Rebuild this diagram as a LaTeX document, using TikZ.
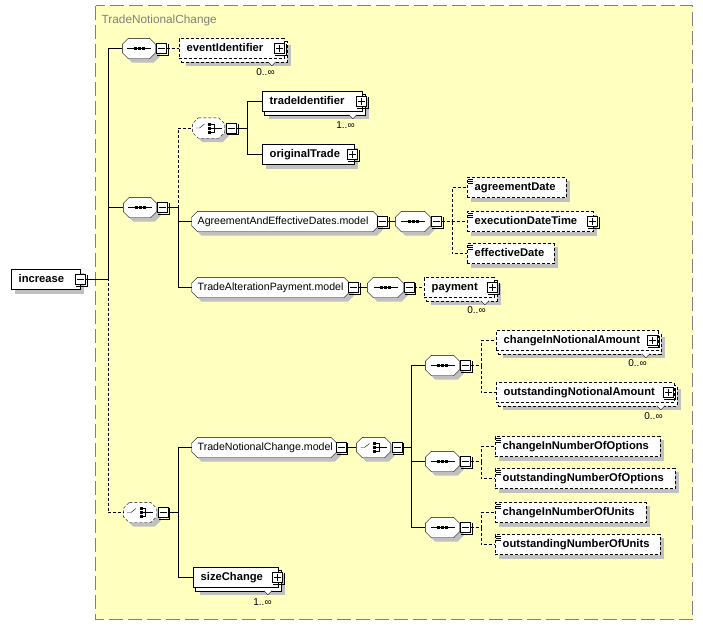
\documentclass[tikz,border=0pt]{standalone}
\usepackage{fontspec}
\setmainfont{Liberation Sans}
\usetikzlibrary{calc}
\pgfdeclarelayer{bg}
\pgfdeclarelayer{shapes}
\pgfsetlayers{bg,shapes,main}
\definecolor{yel}{RGB}{255,255,192}
\definecolor{bord}{RGB}{128,128,128}
\definecolor{shadc}{RGB}{192,192,192}
\definecolor{titc}{RGB}{128,128,128}
\newcommand\tb[2]{\hbox to \dimexpr #1pt-16pt\relax{#2\hss}}
\newcommand\tg[2]{\hbox to \dimexpr #1pt-12pt\relax{#2\hss}}
\tikzset{
  dsh/.style={dash pattern=on 3pt off 2pt},
  elem/.style={draw, fill=white, anchor=west, inner xsep=8pt, inner ysep=0pt,
    minimum height=20pt, text height=8.5pt, text depth=2.5pt,
    font=\bfseries\fontsize{11.2}{13}\selectfont},
  grp/.style={anchor=west, inner xsep=6pt, inner ysep=0pt, minimum height=20pt,
    text height=8pt, text depth=2.5pt, font=\fontsize{10.6}{12}\selectfont},
  comp/.style={minimum height=20pt, inner sep=0pt},
  pm/.style={draw, fill=white, minimum width=10pt, minimum height=10pt, inner sep=0pt},
  mult/.style={font=\fontsize{10}{11}\selectfont, inner sep=0pt},
}
\newcommand\octo[2][]{%
  \begin{pgfonlayer}{shapes}
  \fill[shadc] ($(#2.north west)+(10,4)$) -- ($(#2.north east)+(-2,4)$) -- ($(#2.north east)+(4,10)$)
    -- ($(#2.south east)+(4,-2)$) -- ($(#2.south east)+(-2,4)$) -- ($(#2.south west)+(10,4)$)
    -- ($(#2.south west)+(4,-2)$) -- ($(#2.north west)+(4,10)$) -- cycle;
  \draw[fill=white,#1] ($(#2.north west)+(6,0)$) -- ($(#2.north east)+(-6,0)$) -- ($(#2.north east)+(0,6)$)
    -- ($(#2.south east)+(0,-6)$) -- ($(#2.south east)+(-6,0)$) -- ($(#2.south west)+(6,0)$)
    -- ($(#2.south west)+(0,-6)$) -- ($(#2.north west)+(0,6)$) -- cycle;
  \end{pgfonlayer}}
\newcommand\shad[1]{%
  \begin{pgfonlayer}{shapes}
  \fill[shadc] ($(#1.north west)+(4,4)$) rectangle ($(#1.south east)+(4,4)$);
  \end{pgfonlayer}}
\newcommand\multi[3][]{%
  \begin{pgfonlayer}{shapes}
  \fill[shadc] ($(#2.north west)+(7,7)$) rectangle ($(#2.south east)+(7,7)$);
  \draw[fill=white,#1] ($(#2.north west)+(3,3)$) rectangle ($(#2.south east)+(3,3)$);
  \draw[fill=white] ($(#2.south east)+(-#3-4,3)$) -- ($(#2.south east)+(-#3,7)$) -- ($(#2.south east)+(-#3+4,3)$);
  \end{pgfonlayer}}
\newcommand\mbx[3]{%
  \node[pm] (#1) at (#2,#3) {};
  \draw ($(#1.south west)+(1,1)$) -- ($(#1.south east)+(1,1)$) -- ($(#1.north east)+(1,1)$);
  \draw ($(#1.center)+(-3.5,0)$) -- ($(#1.center)+(3.5,0)$);}
\newcommand\pbx[3]{%
  \mbx{#1}{#2}{#3}
  \draw ($(#1.center)+(0,-3.5)$) -- ($(#1.center)+(0,3.5)$);}
\newcommand\seqicon[1]{%
  \begin{scope}[shift={(#1.center)}]
  \draw (-12,0) -- (12,0);
  \fill (-5.5,-1.5) rectangle (-2.5,1.5);
  \fill (-1.5,-1.5) rectangle (1.5,1.5);
  \fill (2.5,-1.5) rectangle (5.5,1.5);
  \end{scope}}
\newcommand\choiceicon[1]{%
  \begin{scope}[shift={(#1.center)}]
  \draw (-13,0) -- (-9,0) -- (-4,-4);
  \fill (-0.5,-5.5) rectangle (2.5,-2.5);
  \fill (-0.5,-1.5) rectangle (2.5,1.5);
  \fill (-0.5,2.5) rectangle (2.5,5.5);
  \draw (2.5,-4) -- (5.5,-4) -- (5.5,4) -- (2.5,4);
  \draw (2.5,0) -- (13,0);
  \end{scope}}
\newcommand\sicon[1]{%
  \begin{scope}[shift={(#1.north west)}]
  \draw[line width=0.7pt] (1.5,1.8) -- (6.5,1.8) (1.5,3.8) -- (6.5,3.8) (1.5,5.8) -- (6.5,5.8);
  \end{scope}}
\begin{document}
\begin{tikzpicture}[x=1pt,y=-1pt,line width=1pt]
\useasboundingbox (0,0) rectangle (703,625);
\begin{scope}[shift={(0.5,0.5)}]
\begin{pgfonlayer}{bg}
\fill[yel] (95,5) rectangle (692,619);
\draw[bord, dash pattern=on 14pt off 5pt] (95,5) rectangle (692,619);
\end{pgfonlayer}
\node[anchor=base west, text=titc, font=\fontsize{11.8}{13}\selectfont, inner sep=0pt] (title) at (101,22.5) {TradeNotionalChange};

% root
\node[elem] (inc) at (10,279) {\tb{69}{increase}};
\shad{inc}
\mbx{incm}{80}{279}

% sequence 1
\node[comp, minimum width=33pt] (s1) at (138.5,48) {};
\octo{s1}\seqicon{s1}
\mbx{s1m}{161}{48}
\draw (incm.east) -- ++(22,0) |- (s1.west);

\node[elem, dsh] (ei) at (178,48) {\tb{105}{eventIdentifier}};
\multi[dsh]{ei}{12}
\pbx{eip}{279}{48}
\node[mult] (eil) at (265,72) {0..∞};
\draw[dsh] (s1m.east) -- (ei.west);

% sequence 2
\node[comp, minimum width=33pt] (s2) at (139.5,207) {};
\octo{s2}\seqicon{s2}
\mbx{s2m}{162}{207}
\draw (incm.east) -- ++(22,0) |- (s2.west);

% choice 1
\node[comp, minimum width=32pt] (c1) at (208,127.5) {};
\octo[dsh]{c1}\choiceicon{c1}
\mbx{c1m}{231}{127.5}
\draw[dsh] (s2m.east) -- ++(10,0) |- (c1.west);

\node[elem] (tid) at (261,101) {\tb{100}{tradeIdentifier}};
\multi{tid}{9}
\pbx{tidp}{361}{101}
\node[mult] (tidl) at (345,125) {1..∞};
\draw (c1m.east) -- ++(10,0) |- (tid.west);

\node[elem] (ot) at (261,154) {\tb{92}{originalTrade}};
\shad{ot}
\pbx{otp}{352}{154}
\draw (c1m.east) -- ++(10,0) |- (ot.west);

% AgreementAndEffectiveDates.model
\node[grp] (aed) at (191,221) {\tg{187}{AgreementAndEffectiveDates.model}};
\octo{aed}
\mbx{aedm}{382}{221}
\draw (s2m.east) -- ++(10,0) |- (aed.west);

\node[comp, minimum width=35pt] (s3) at (412.5,221) {};
\octo{s3}\seqicon{s3}
\mbx{s3m}{436}{221}
\draw (aedm.east) -- (s3.west);

\node[elem, dsh] (ad) at (466,187) {\tb{99}{agreementDate}};
\shad{ad}\sicon{ad}
\draw[dsh] (s3m.east) -- ++(10,0) |- (ad.west);

\node[elem, dsh] (edt) at (466,221) {\tb{126}{executionDateTime}};
\shad{edt}\sicon{edt}
\pbx{edtp}{592}{221}
\draw[dsh] (s3m.east) -- ++(10,0) |- (edt.west);

\node[elem, dsh] (efd) at (466,253) {\tb{87}{effectiveDate}};
\shad{efd}\sicon{efd}
\draw[dsh] (s3m.east) -- ++(10,0) |- (efd.west);

% TradeAlterationPayment.model
\node[grp] (tap) at (191,287) {\tg{158}{TradeAlterationPayment.model}};
\octo{tap}
\mbx{tapm}{353}{287}
\draw (s2m.east) -- ++(10,0) |- (tap.west);

\node[comp, minimum width=36pt] (s4) at (385,287) {};
\octo{s4}\seqicon{s4}
\mbx{s4m}{408.5}{287}
\draw (tapm.east) -- (s4.west);

\node[elem, dsh] (pay) at (423,287) {\tb{70}{payment}};
\multi[dsh]{pay}{9}
\pbx{payp}{492}{287}
\node[mult] (payl) at (476,310) {0..∞};
\draw[dsh] (s4m.east) -- (pay.west);

% choice 2
\node[comp, minimum width=33pt] (c2) at (139.5,512) {};
\octo[dsh]{c2}\choiceicon{c2}
\mbx{c2m}{162.5}{512}
\draw[dsh] (incm.east) -- ++(22,0) |- (c2.west);

% TradeNotionalChange.model
\node[grp] (tnc) at (191,447) {\tg{145}{TradeNotionalChange.model}};
\octo{tnc}
\mbx{tncm}{340.5}{447}
\draw (c2m.east) -- ++(9.5,0) |- (tnc.west);

\node[comp, minimum width=34pt] (c3) at (373,447) {};
\octo{c3}\choiceicon{c3}
\mbx{c3m}{396.5}{447}
\draw (tncm.east) -- (c3.west);

% sequence 5
\node[comp, minimum width=34pt] (s5) at (442,365) {};
\octo{s5}\seqicon{s5}
\mbx{s5m}{465}{365}
\draw (c3m.east) -- ++(9,0) |- (s5.west);

\node[elem, dsh] (cna) at (495,340) {\tb{162}{changeInNotionalAmount}};
\multi[dsh]{cna}{12}
\pbx{cnap}{652}{340}
\node[mult] (cnal) at (637,363) {0..∞};
\draw[dsh] (s5m.east) -- ++(10,0) |- (cna.west);

\node[elem, dsh] (ona) at (495,392) {\tb{178}{outstandingNotionalAmount}};
\multi[dsh]{ona}{13}
\pbx{onap}{668}{392}
\node[mult] (onal) at (653,416) {0..∞};
\draw[dsh] (s5m.east) -- ++(10,0) |- (ona.west);

% sequence 6
\node[comp, minimum width=34pt] (s6) at (442,461) {};
\octo{s6}\seqicon{s6}
\mbx{s6m}{465}{461}
\draw (c3m.east) -- ++(9,0) |- (s6.west);

\node[elem, dsh] (cno) at (494,446) {\tb{165}{changeInNumberOfOptions}};
\shad{cno}\sicon{cno}
\draw[dsh] (s6m.east) -- ++(10,0) |- (cno.west);

\node[elem, dsh] (ono) at (494,478) {\tb{180}{outstandingNumberOfOptions}};
\shad{ono}\sicon{ono}
\draw[dsh] (s6m.east) -- ++(10,0) |- (ono.west);

% sequence 7
\node[comp, minimum width=34pt] (s7) at (442,527) {};
\octo{s7}\seqicon{s7}
\mbx{s7m}{465}{527}
\draw (c3m.east) -- ++(9,0) |- (s7.west);

\node[elem, dsh] (cnu) at (494,512) {\tb{151}{changeInNumberOfUnits}};
\shad{cnu}\sicon{cnu}
\draw[dsh] (s7m.east) -- ++(10,0) |- (cnu.west);

\node[elem, dsh] (onu) at (494,544) {\tb{165}{outstandingNumberOfUnits}};
\shad{onu}\sicon{onu}
\draw[dsh] (s7m.east) -- ++(10,0) |- (onu.west);

% sizeChange
\node[elem] (sc) at (192,577) {\tb{85}{sizeChange}};
\multi{sc}{10}
\pbx{scp}{277}{577}
\node[mult] (scl) at (262,602) {1..∞};
\draw (c2m.east) -- ++(9.5,0) |- (sc.west);
\end{scope}
\end{tikzpicture}
\end{document}
